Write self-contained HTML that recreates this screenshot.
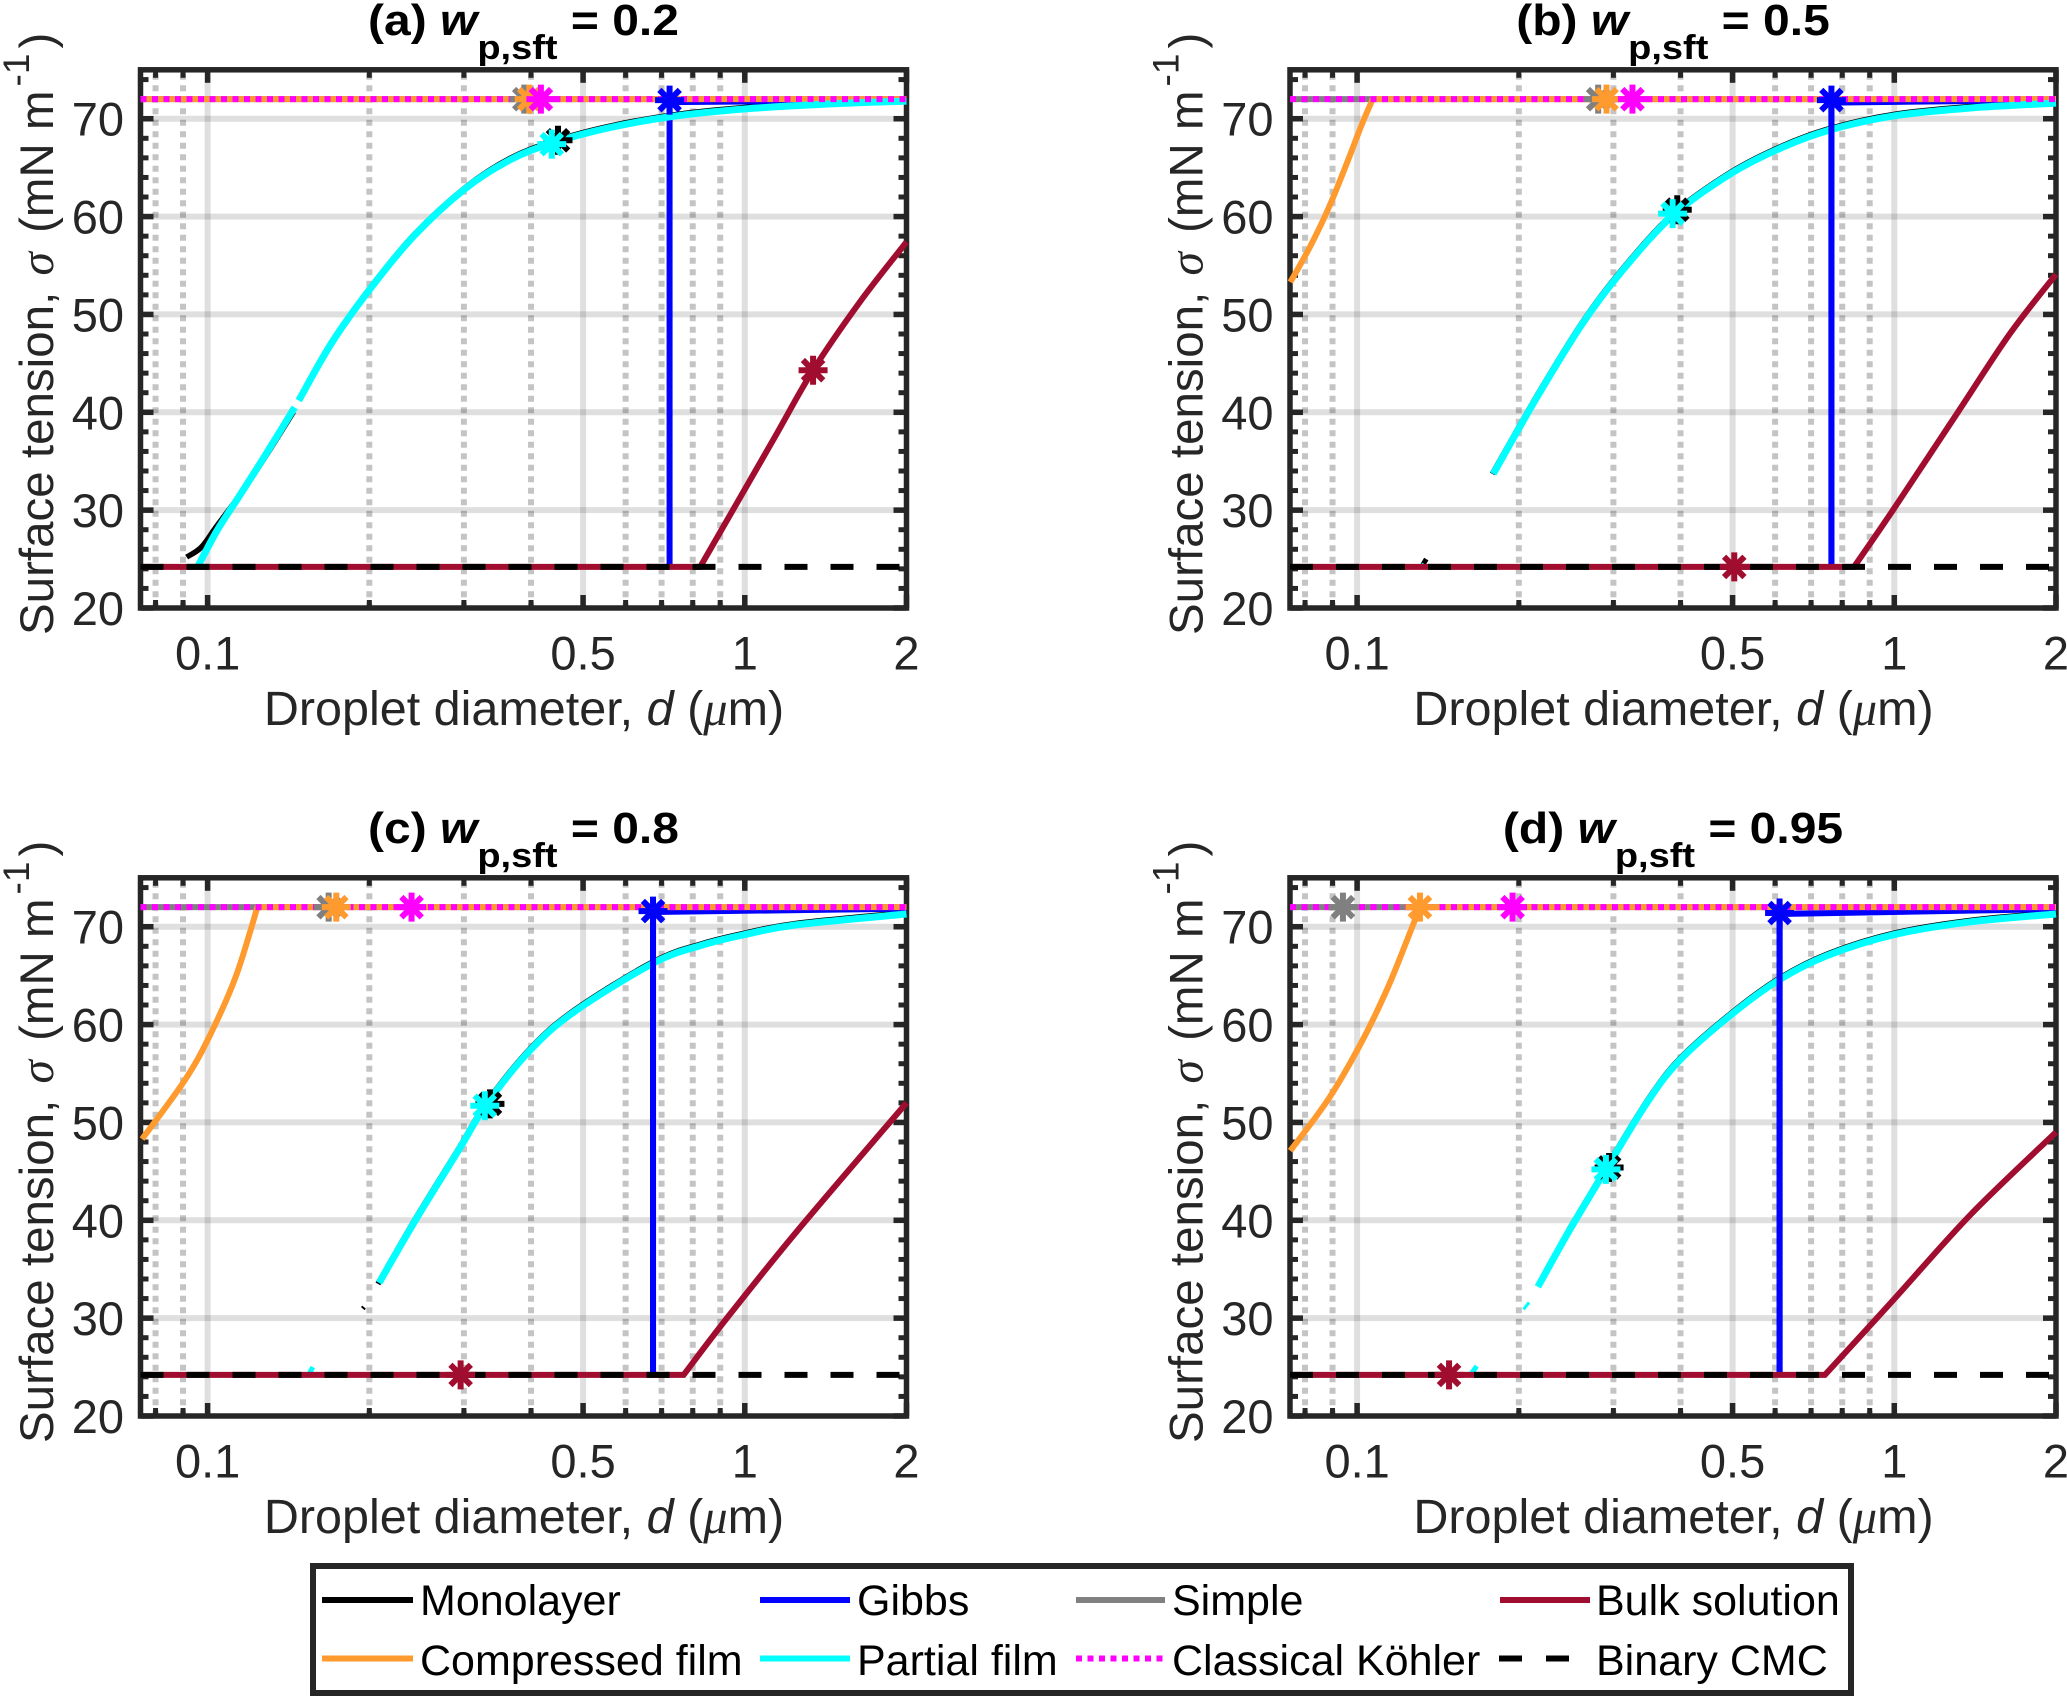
<!DOCTYPE html>
<html lang="en">
<head>
<meta charset="utf-8">
<title>Surface tension vs droplet diameter</title>
<style>
html,body{margin:0;padding:0;background:#fff;width:2067px;height:1696px;overflow:hidden}
svg{display:block}
text{font-family:"Liberation Sans",sans-serif;fill:#262626}
.sym{font-family:"Liberation Serif",serif;font-style:italic}
.lg{font-size:43px;fill:#000}
.ttl{font-weight:bold;font-size:48px;fill:#000}
.lab{font-size:48.5px}
.ylab{font-size:47.5px}
</style>
</head>
<body>
<svg xmlns="http://www.w3.org/2000/svg" width="2067" height="1696" viewBox="0 0 2067 1696">
<defs><clipPath id="plot-clip"><rect x="137" y="67" width="773" height="544"/></clipPath></defs>

<g id="panel-a" transform="translate(0,0)">
  <text class="ttl" text-anchor="middle" transform="translate(523.5,35) scale(1,.9)">(a) <tspan font-style="italic">w</tspan><tspan font-size="38" dy="26.5">p,sft</tspan><tspan dy="-26.5"> = 0.2</tspan></text>
  <text class="lab" text-anchor="middle" x="524" y="725">Droplet diameter, <tspan font-style="italic">d</tspan> (<tspan class="sym">μ</tspan>m)</text>
  <text class="ylab" transform="translate(53,635) rotate(-90)">Surface tension, <tspan class="sym" dx="3">σ</tspan><tspan dx="6"> (mN m</tspan><tspan font-size="37" dy="-24" dx="4">-1</tspan><tspan dy="24" dx="5">)</tspan></text>
</g>
<g id="panel-b" transform="translate(1149.5,0)">
  <text class="ttl" text-anchor="middle" transform="translate(523.5,35) scale(1,.9)">(b) <tspan font-style="italic">w</tspan><tspan font-size="38" dy="26.5">p,sft</tspan><tspan dy="-26.5"> = 0.5</tspan></text>
  <text class="lab" text-anchor="middle" x="524" y="725">Droplet diameter, <tspan font-style="italic">d</tspan> (<tspan class="sym">μ</tspan>m)</text>
  <text class="ylab" transform="translate(53,635) rotate(-90)">Surface tension, <tspan class="sym" dx="3">σ</tspan><tspan dx="6"> (mN m</tspan><tspan font-size="37" dy="-24" dx="4">-1</tspan><tspan dy="24" dx="5">)</tspan></text>
</g>
<g id="panel-c" transform="translate(0,808)">
  <text class="ttl" text-anchor="middle" transform="translate(523.5,35) scale(1,.9)">(c) <tspan font-style="italic">w</tspan><tspan font-size="38" dy="26.5">p,sft</tspan><tspan dy="-26.5"> = 0.8</tspan></text>
  <text class="lab" text-anchor="middle" x="524" y="725">Droplet diameter, <tspan font-style="italic">d</tspan> (<tspan class="sym">μ</tspan>m)</text>
  <text class="ylab" transform="translate(53,635) rotate(-90)">Surface tension, <tspan class="sym" dx="3">σ</tspan><tspan dx="6"> (mN m</tspan><tspan font-size="37" dy="-24" dx="4">-1</tspan><tspan dy="24" dx="5">)</tspan></text>
</g>
<g id="panel-d" transform="translate(1149.5,808)">
  <text class="ttl" text-anchor="middle" transform="translate(523.5,35) scale(1,.9)">(d) <tspan font-style="italic">w</tspan><tspan font-size="38" dy="26.5">p,sft</tspan><tspan dy="-26.5"> = 0.95</tspan></text>
  <text class="lab" text-anchor="middle" x="524" y="725">Droplet diameter, <tspan font-style="italic">d</tspan> (<tspan class="sym">μ</tspan>m)</text>
  <text class="ylab" transform="translate(53,635) rotate(-90)">Surface tension, <tspan class="sym" dx="3">σ</tspan><tspan dx="6"> (mN m</tspan><tspan font-size="37" dy="-24" dx="4">-1</tspan><tspan dy="24" dx="5">)</tspan></text>
</g>

<g id="legend">
  <rect x="313" y="1566" width="1538" height="127" fill="#fff" stroke="#262626" stroke-width="6"/>
  <g><line x1="322" x2="413" y1="1600" y2="1600" stroke="#000" stroke-width="6"/><text class="lg" x="420" y="1615">Monolayer</text></g>
  <g><line x1="760" x2="850" y1="1600" y2="1600" stroke="#0000ff" stroke-width="6"/><text class="lg" x="857" y="1615">Gibbs</text></g>
  <g><line x1="1076" x2="1165" y1="1600" y2="1600" stroke="#808080" stroke-width="6"/><text class="lg" x="1172" y="1615">Simple</text></g>
  <g><line x1="1500" x2="1590" y1="1600" y2="1600" stroke="#a10d2f" stroke-width="6"/><text class="lg" x="1596" y="1615">Bulk solution</text></g>
  <g><line x1="322" x2="413" y1="1658.5" y2="1658.5" stroke="#ff9a2e" stroke-width="6"/><text class="lg" x="420" y="1675">Compressed film</text></g>
  <g><line x1="760" x2="850" y1="1658.5" y2="1658.5" stroke="#00ffff" stroke-width="6"/><text class="lg" x="857" y="1675">Partial film</text></g>
  <g><line x1="1076" x2="1165" y1="1658.5" y2="1658.5" stroke="#ff00ff" stroke-width="6" stroke-dasharray="6 5.5"/><text class="lg" x="1172" y="1675">Classical Köhler</text></g>
  <g><line x1="1499" x2="1570" y1="1658.5" y2="1658.5" stroke="#000" stroke-width="6" stroke-dasharray="23 24"/><text class="lg" x="1596" y="1675">Binary CMC</text></g>
</g>
</svg>

<script>
/* ---------- axis tick values ---------- */
const xMajorTicks = [0.1, 0.5, 1, 2];
const xMinorTicks = [0.08, 0.09, 0.2, 0.3, 0.4, 0.6, 0.7, 0.8, 0.9];
const xTickLabels = ["0.1", "0.5", "1", "2"];
const yMajorTicks = [20, 30, 40, 50, 60, 70];
const yMinorTicks = [22, 24, 26, 28, 32, 34, 36, 38, 42, 44, 46, 48, 52, 54, 56, 58, 62, 64, 66, 68, 72, 74];
const yTickLabels = ["20", "30", "40", "50", "60", "70"];

/* ---------- reference constants (mN/m) ---------- */
const binaryCmcSigma = 24.2;
const classicalSigma = 72;
const xDomain = [0.075, 2];
const yDomain = [20, 75];

/* ---------- panel (a) w = 0.2 ---------- */
const aPartialLowD = [0.096, 0.1041, 0.1135, 0.1227, 0.1345, 0.1452];
const aPartialLowS = [24.3, 27.9, 31.1, 34, 37.5, 40.5];
const aPartialHighD = [0.1478, 0.1702, 0.2006, 0.2428, 0.3023, 0.3656, 0.4372, 0.5507, 0.7257, 1, 1.43, 2];
const aPartialHighS = [41.2, 47.1, 52.6, 58.1, 62.9, 65.8, 67.5, 69, 70.2, 71, 71.5, 71.8];
const aMonoLowD = [0.0914, 0.0973, 0.1041, 0.116, 0.1296, 0.1445];
const aMonoLowS = [25.2, 26.2, 28.4, 31.9, 35.9, 40.05];
const aMonoHighD = [0.1702, 0.2006, 0.2428, 0.3023, 0.3656, 0.4372, 0.5507, 0.7257, 1, 1.43, 2];
const aMonoHighS = [47.2, 52.7, 58.2, 63, 65.95, 67.65, 69.15, 70.35, 71.15, 71.6, 71.9];
const aCompressedD = [0.075, 2];
const aCompressedS = [72, 72];
const aGibbsD = [0.7244, 0.7244, 2];
const aGibbsS = [24.2, 71.7, 71.9];
const aBulkD = [0.075, 0.826, 1.122, 1.34, 1.644, 2];
const aBulkS = [24.2, 24.2, 36.9, 44.3, 51.4, 57.4];
const aMarkerD = [0.3886, 0.397, 0.4173, 0.449, 0.4372, 0.7244, 1.34];
const aMarkerS = [72, 72, 72, 67.8, 67.4, 71.9, 44.3];

/* ---------- panel (b) w = 0.5 ---------- */
const bPartialD = [0.1792, 0.2159, 0.2622, 0.3097, 0.3867, 0.4966, 0.6202, 0.7638, 1, 1.388, 2];
const bPartialS = [33.7, 41.5, 49, 54.3, 60.1, 64.4, 67.1, 68.9, 70.3, 71.1, 71.6];
const bMonoD = [0.1785, 0.2159, 0.2622, 0.3097, 0.3867, 0.4966, 0.6202, 0.7638, 1, 1.388, 2];
const bMonoS = [33.7, 41.65, 49.15, 54.45, 60.25, 64.55, 67.25, 69.05, 70.45, 71.25, 71.75];
const bCompressedD = [0.0751, 0.0817, 0.0887, 0.0964, 0.102, 0.1069, 2];
const bCompressedS = [53.3, 56.9, 61, 65.9, 69.4, 72, 72];
const bGibbsD = [0.7638, 0.7638, 2];
const bGibbsS = [24.2, 71.65, 71.9];
const bBulkD = [0.075, 0.8414, 0.997, 1.313, 1.64, 2];
const bBulkS = [24.2, 24.2, 30.1, 40, 48, 54.1];
const bFragMonoD = [0.1325, 0.1345];
const bFragMonoS = [24.4, 25];
const bFragPartialD = [0.1318, 0.1325];
const bFragPartialS = [24, 24.6];
const bMarkerD = [0.281, 0.2913, 0.3255, 0.3944, 0.3867, 0.7638, 0.5036];
const bMarkerS = [72, 72, 72, 60.7, 60.3, 71.9, 24.2];

/* ---------- panel (c) w = 0.8 ---------- */
const cPartialD = [0.2085, 0.243, 0.2942, 0.3299, 0.3972, 0.481, 0.6767, 0.8305, 1, 1.25, 2];
const cPartialS = [33.6, 39.9, 47.3, 51.8, 57.3, 61.3, 66.3, 68.1, 69.2, 70.2, 71.3];
const cMonoD = [0.2075, 0.243, 0.2942, 0.3299, 0.3972, 0.481, 0.6767, 0.8305, 1, 1.25, 2];
const cMonoS = [33.5, 40.05, 47.45, 51.95, 57.45, 61.45, 66.45, 68.25, 69.35, 70.35, 71.45];
const cCompressedD = [0.0755, 0.0909, 0.1014, 0.113, 0.1238, 2];
const cCompressedS = [48.3, 54.4, 59.1, 65, 72, 72];
const cGibbsD = [0.6748, 0.6748, 2];
const cGibbsS = [24.2, 71.5, 71.85];
const cBulkD = [0.075, 0.7694, 0.9263, 1.2515, 2];
const cBulkS = [24.2, 24.2, 30, 38.9, 52];
const cFragPartialD = [0.1535, 0.157];
const cFragPartialS = [24, 25];
const cFragMonoD = [0.1935, 0.1965];
const cFragMonoS = [31.2, 30.9];
const cMarkerD = [0.168, 0.1736, 0.2397, 0.3354, 0.3281, 0.6748, 0.2958];
const cMarkerS = [72, 72, 72, 51.9, 51.7, 71.6, 24.2];

/* ---------- panel (d) w = 0.95 ---------- */
const dPartialD = [0.217, 0.248, 0.2913, 0.3461, 0.3976, 0.4966, 0.6116, 0.7534, 1, 1.388, 2];
const dPartialS = [33.2, 38.9, 45.3, 52, 56.3, 61, 64.6, 67.1, 69.2, 70.5, 71.3];
const dMonoD = [0.248, 0.2913, 0.3461, 0.3976, 0.4966, 0.6116, 0.7534, 1, 1.388, 2];
const dMonoS = [39.05, 45.45, 52.15, 56.45, 61.15, 64.75, 67.25, 69.35, 70.65, 71.45];
const dCompressedD = [0.0751, 0.0887, 0.1019, 0.1139, 0.1238, 0.1309, 2];
const dCompressedS = [47.1, 52.5, 58.2, 63.7, 68.6, 72, 72];
const dGibbsD = [0.6116, 0.6116, 2];
const dGibbsS = [24.2, 71.3, 71.8];
const dBulkD = [0.075, 0.7427, 0.994, 1.388, 2];
const dBulkS = [24.2, 24.2, 31.8, 40.6, 49];
const dFragPartialD = [0.204, 0.209];
const dFragPartialS = [30.9, 31.6];
const dFragPartial2D = [0.1625, 0.167];
const dFragPartial2S = [24.2, 25.1];
const dMarkerD = [0.0941, 0.1309, 0.1947, 0.2945, 0.2905, 0.6116, 0.1483];
const dMarkerS = [72, 72, 72, 45.4, 45.2, 71.4, 24.2];

/* ---------- styles ---------- */
const markerNames = ["simple", "compressed-film", "classical-kohler", "monolayer", "partial-film", "gibbs", "bulk-solution"];
const markerColors = ["#808080", "#ff9a2e", "#ff00ff", "#000000", "#00ffff", "#0000ff", "#a10d2f"];
const COL = {mono:"#000000", gibbs:"#0000ff", simple:"#808080", bulk:"#a10d2f", comp:"#ff9a2e", partial:"#00ffff", classical:"#ff00ff"};

const PX = {left:140.5, right:906.5, top:69.8, bottom:608};
const SVGNS = "http://www.w3.org/2000/svg";

function xScale(d){
  return PX.left + (Math.log10(d) - Math.log10(xDomain[0])) / (Math.log10(xDomain[1]) - Math.log10(xDomain[0])) * (PX.right - PX.left);
}
function yScale(s){
  return PX.bottom - (s - yDomain[0]) / (yDomain[1] - yDomain[0]) * (PX.bottom - PX.top);
}
function mk(tag, parent){
  const el = document.createElementNS(SVGNS, tag);
  parent.appendChild(el);
  return el;
}
/* segments with index in [from, to) are smoothed; all others stay straight */
function pathString(ds, ss, from, to){
  const p = ds.map((d, i) => [xScale(d), yScale(ss[i])]);
  let s = "M" + p[0][0].toFixed(2) + " " + p[0][1].toFixed(2);
  for (let i = 0; i < p.length - 1; i++){
    if (i < from || i >= to){
      s += "L" + p[i+1][0].toFixed(2) + " " + p[i+1][1].toFixed(2);
    } else {
      const p0 = p[Math.max(i-1, from)], p1 = p[i], p2 = p[i+1], p3 = p[Math.min(i+2, to)];
      const c1x = p1[0] + (p2[0]-p0[0])/6, c1y = p1[1] + (p2[1]-p0[1])/6;
      const c2x = p2[0] - (p3[0]-p1[0])/6, c2y = p2[1] - (p3[1]-p1[1])/6;
      s += "C" + [c1x,c1y,c2x,c2y,p2[0],p2[1]].map(v => v.toFixed(2)).join(" ");
    }
  }
  return s;
}
function drawSeries(parent, name, ds, ss, color, width, from, to, dash){
  const el = mk("path", parent);
  el.setAttribute("d", pathString(ds, ss, from, to));
  el.setAttribute("fill", "none");
  el.setAttribute("stroke", color);
  el.setAttribute("stroke-width", width);
  if (dash) el.setAttribute("stroke-dasharray", dash);
  
  
  return el;
}
function drawLine(parent, name, x1, y1, x2, y2, color, width, opacity, dash){
  const el = mk("line", parent);
  el.setAttribute("x1", x1); el.setAttribute("y1", y1);
  el.setAttribute("x2", x2); el.setAttribute("y2", y2);
  el.setAttribute("stroke", color);
  el.setAttribute("stroke-width", width);
  if (opacity) el.setAttribute("stroke-opacity", opacity);
  if (dash) el.setAttribute("stroke-dasharray", dash);
  
  
  return el;
}
function drawMarker(parent, name, d, s, color){
  const el = mk("path", parent);
  el.setAttribute("d", "M-14.5 0H14.5M0 -14.5V14.5M-10.2 -10.2L10.2 10.2M-10.2 10.2L10.2 -10.2");
  el.setAttribute("transform", "translate(" + xScale(d).toFixed(2) + "," + yScale(s).toFixed(2) + ")");
  el.setAttribute("fill", "none");
  el.setAttribute("stroke", color);
  el.setAttribute("stroke-width", 6);
  
  
  return el;
}
function drawAxes(g){
  const axes = mk("g", g);
  
  
  /* grid */
  xMinorTicks.forEach(t => {
    drawLine(axes, 'x-minor-gridline', xScale(t), PX.top + 4, xScale(t), PX.bottom, "#000", 6, 0.23, "6 5.5");
  });
  xMajorTicks.slice(0, 3).forEach(t => {
    drawLine(axes, 'x-major-gridline', xScale(t), PX.top, xScale(t), PX.bottom, "#000", 6, 0.125);
  });
  yMajorTicks.slice(1).forEach(t => {
    drawLine(axes, 'y-major-gridline', PX.left, yScale(t), PX.right, yScale(t), "#000", 6, 0.125);
  });
  /* ticks */
  const tc = "#262626";
  xMinorTicks.forEach(t => {
    drawLine(axes, 'x-minor-tick', xScale(t), PX.bottom, xScale(t), PX.bottom - 8, tc, 5);
    drawLine(axes, 'x-minor-tick', xScale(t), PX.top, xScale(t), PX.top + 8, tc, 5);
  });
  xMajorTicks.forEach(t => {
    drawLine(axes, 'x-major-tick', xScale(t), PX.bottom, xScale(t), PX.bottom - 13, tc, 5.5);
    drawLine(axes, 'x-major-tick', xScale(t), PX.top, xScale(t), PX.top + 13, tc, 5.5);
  });
  yMinorTicks.forEach(t => {
    drawLine(axes, 'y-minor-tick', PX.left, yScale(t), PX.left + 8, yScale(t), tc, 5);
    drawLine(axes, 'y-minor-tick', PX.right, yScale(t), PX.right - 8, yScale(t), tc, 5);
  });
  yMajorTicks.forEach(t => {
    drawLine(axes, 'y-major-tick', PX.left, yScale(t), PX.left + 13, yScale(t), tc, 5.5);
    drawLine(axes, 'y-major-tick', PX.right, yScale(t), PX.right - 13, yScale(t), tc, 5.5);
  });
  /* frame */
  const fr = mk("rect", axes);
  fr.setAttribute("x", PX.left); fr.setAttribute("y", PX.top);
  fr.setAttribute("width", PX.right - PX.left); fr.setAttribute("height", PX.bottom - PX.top);
  fr.setAttribute("fill", "none"); fr.setAttribute("stroke", tc); fr.setAttribute("stroke-width", 5.5);
  
  
  /* tick labels */
  xMajorTicks.forEach((t, i) => {
    const el = mk("text", g);
    el.setAttribute("x", xScale(t)); el.setAttribute("y", 669.5);
    el.setAttribute("text-anchor", "middle"); el.setAttribute("font-size", 47);
    el.textContent = xTickLabels[i];
    
    
  });
  yMajorTicks.forEach((t, i) => {
    const el = mk("text", g);
    el.setAttribute("x", 124); el.setAttribute("y", yScale(t) + 17);
    el.setAttribute("text-anchor", "end"); el.setAttribute("font-size", 47);
    el.textContent = yTickLabels[i];
    
    
  });
}
function drawPanel(id, spec){
  const g = document.getElementById(id);
  drawAxes(g);
  const data = mk("g", g);
  data.setAttribute("clip-path", "url(#plot-clip)");
  
  
  const full = xDomain;
  const flatC = [classicalSigma, classicalSigma];
  const flatB = [binaryCmcSigma, binaryCmcSigma];
  drawSeries(data, 'simple-line', full, flatC, COL.simple, 6, 0, 0);
  spec.mono.forEach(m => drawSeries(data, 'monolayer-line', m[0], m[1], COL.mono, m[2] || 5.5, 0, m[0].length - 1));
  drawSeries(data, 'gibbs-line', spec.gibbs[0], spec.gibbs[1], COL.gibbs, 6, 0, 0);
  drawSeries(data, 'compressed-film-line', spec.comp[0], spec.comp[1], COL.comp, 6, 0, spec.comp[0].length - 2);
  spec.partial.forEach(m => drawSeries(data, 'partial-film-line', m[0], m[1], COL.partial, m[2] || 7, 0, m[0].length - 1));
  if (spec.gibbsOnTop) {
    drawSeries(data, 'gibbs-stem', spec.gibbs[0].slice(0, 2), spec.gibbs[1].slice(0, 2), COL.gibbs, 6, 0, 0);
  }
  drawSeries(data, 'bulk-solution-line', spec.bulk[0], spec.bulk[1], COL.bulk, 6, 1, spec.bulk[0].length - 1);
  drawSeries(data, 'classical-kohler-line', full, flatC, COL.classical, 6, 0, 0, "6 5.5");
  drawSeries(data, 'binary-cmc-line', full, flatB, COL.mono, 6, 0, 0, "23 23");
  spec.markerD.forEach((d, i) => {
    drawMarker(data, markerNames[i] + '-marker', d, spec.markerS[i], markerColors[i]);
  });
}

drawPanel("panel-a", {
  mono: [[aMonoLowD, aMonoLowS], [aMonoHighD, aMonoHighS]],
  partial: [[aPartialLowD, aPartialLowS], [aPartialHighD, aPartialHighS]],
  comp: [aCompressedD, aCompressedS], gibbs: [aGibbsD, aGibbsS], bulk: [aBulkD, aBulkS],
  gibbsOnTop: false, markerD: aMarkerD, markerS: aMarkerS
});
drawPanel("panel-b", {
  mono: [[bMonoD, bMonoS], [bFragMonoD, bFragMonoS, 5]],
  partial: [[bPartialD, bPartialS], [bFragPartialD, bFragPartialS, 2]],
  comp: [bCompressedD, bCompressedS], gibbs: [bGibbsD, bGibbsS], bulk: [bBulkD, bBulkS],
  gibbsOnTop: true, markerD: bMarkerD, markerS: bMarkerS
});
drawPanel("panel-c", {
  mono: [[cMonoD, cMonoS], [cFragMonoD, cFragMonoS, 2]],
  partial: [[cPartialD, cPartialS], [cFragPartialD, cFragPartialS, 5]],
  comp: [cCompressedD, cCompressedS], gibbs: [cGibbsD, cGibbsS], bulk: [cBulkD, cBulkS],
  gibbsOnTop: true, markerD: cMarkerD, markerS: cMarkerS
});
drawPanel("panel-d", {
  mono: [[dMonoD, dMonoS]],
  partial: [[dPartialD, dPartialS], [dFragPartialD, dFragPartialS, 3], [dFragPartial2D, dFragPartial2S, 5]],
  comp: [dCompressedD, dCompressedS], gibbs: [dGibbsD, dGibbsS], bulk: [dBulkD, dBulkS],
  gibbsOnTop: true, markerD: dMarkerD, markerS: dMarkerS
});
</script>
</body>
</html>
